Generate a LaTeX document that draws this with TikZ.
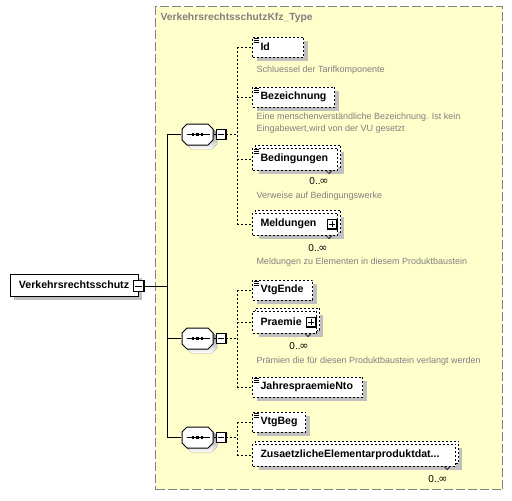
\documentclass[tikz,border=0pt]{standalone}
\usepackage{fontspec}
\setmainfont{Liberation Sans}
\newfontfamily\symfont{DejaVu Sans}
\usetikzlibrary{shadows,calc}
\definecolor{typefill}{RGB}{255,255,204}
\definecolor{typeline}{RGB}{128,128,128}
\definecolor{shade}{RGB}{192,192,192}
\definecolor{doccol}{RGB}{128,128,128}
\newcommand\lblfont{\fontsize{10.6}{12}\selectfont\bfseries}
\newcommand\docfont{\fontsize{9}{12}\selectfont}
\newcommand\multfont{\fontsize{10}{12}\selectfont}
\newcommand\manyocc{0..\kern-1.2pt{\symfont\fontsize{11}{12}\selectfont ∞}}
\newcommand\seqglyph[1]{%
 \fill[shade] ([shift={(-11.5,-1.5)}]#1.center) -- ([shift={(-6.5,-6.5)}]#1.center) -- ([shift={(14.5,-6.5)}]#1.center) -- ([shift={(19.5,-1.5)}]#1.center) -- ([shift={(19.5,9.5)}]#1.center) -- ([shift={(14.5,14.5)}]#1.center) -- ([shift={(-6.5,14.5)}]#1.center) -- ([shift={(-11.5,9.5)}]#1.center) -- cycle;
 \draw[fill=white] ([shift={(-15.5,-5.5)}]#1.center) -- ([shift={(-10.5,-10.5)}]#1.center) -- ([shift={(10.5,-10.5)}]#1.center) -- ([shift={(15.5,-5.5)}]#1.center) -- ([shift={(15.5,5.5)}]#1.center) -- ([shift={(10.5,10.5)}]#1.center) -- ([shift={(-10.5,10.5)}]#1.center) -- ([shift={(-15.5,5.5)}]#1.center) -- cycle;
 \draw ([shift={(-11,0)}]#1.center) -- ([shift={(12,0)}]#1.center);
 \foreach \dx in {-4.5,0,4.5} \fill ([shift={(\dx-1.4,-1.4)}]#1.center) rectangle ([shift={(\dx+1.4,1.4)}]#1.center);
}
\newcommand\simpleicon[1]{%
 \foreach \dy in {2,4,6} \draw[line width=0.8pt] ([shift={(1.5,\dy)}]#1.north west) -- ++(5,0);
}
\newcommand\multinotch[1]{%
 \draw[line width=0.7pt] ([shift={(-12,0)}]#1.south east) -- ++(3,3) -- ++(3,-3);
}
\tikzset{
  every path/.style={line width=1pt},
  typebox/.style={draw=typeline, fill=typefill, dash pattern=on 9pt off 3pt, anchor=north west, minimum width=347pt, minimum height=483pt},
  conn/.style={draw=black, line width=1pt},
  dconn/.style={draw=black, line width=1pt, dash pattern=on 2pt off 2pt},
  rootbox/.style={draw, fill=white, minimum width=128pt, minimum height=22pt, inner sep=0pt, font=\lblfont,
     drop shadow={shadow xshift=4pt, shadow yshift=-4pt, fill=shade, opacity=1, draw=none}},
  elem/.style={draw, dash pattern=on 2pt off 2pt, fill=white, anchor=west, minimum height=20pt, inner xsep=8pt, inner ysep=0pt,
     text width=#1-16pt, align=left, font=\lblfont,
     drop shadow={shadow xshift=4pt, shadow yshift=-4pt, fill=shade, opacity=1, draw=none}},
  multielem/.style={draw, dash pattern=on 2pt off 2pt, fill=white, anchor=west, minimum height=22pt, inner xsep=8pt, inner ysep=0pt,
     text width=#1-16pt, align=left, font=\lblfont,
     drop shadow={shadow xshift=6pt, shadow yshift=-4pt, fill=shade, opacity=1, draw=none},
     copy shadow={shadow xshift=3pt, shadow yshift=3pt, draw=black, fill=white, dash pattern=on 2pt off 2pt, opacity=1}},
  togglebox/.style={draw, fill=white, line width=0.9pt, minimum size=#1, inner sep=0pt, solid},
  minusbox/.style={togglebox=#1, path picture={
     \draw[line width=0.9pt] ([xshift=2pt]path picture bounding box.west) -- ([xshift=-2pt]path picture bounding box.east);
     \draw[line width=1.6pt] (path picture bounding box.north east) -- (path picture bounding box.south east) -- (path picture bounding box.south west);}},
  plusbox/.style={togglebox=#1, path picture={
     \draw[line width=0.9pt] ([xshift=2pt]path picture bounding box.west) -- ([xshift=-2pt]path picture bounding box.east);
     \draw[line width=0.9pt] ([yshift=-2pt]path picture bounding box.north) -- ([yshift=2pt]path picture bounding box.south);
     \draw[line width=1.6pt] (path picture bounding box.north east) -- (path picture bounding box.south east) -- (path picture bounding box.south west);}},
  seqbox/.style={minimum width=31pt, minimum height=21pt, inner sep=0pt},
  doc/.style={anchor=west, font=\docfont, text=doccol, inner sep=0pt, align=left},
  mult/.style={font=\multfont, text=black, inner sep=0pt},
}
\begin{document}
\begin{tikzpicture}[x=1pt,y=-1pt]
\useasboundingbox (0,0) rectangle (512,501);

% type container
\node[typebox] (type) at (155,6) {};
\node[anchor=west, font=\fontsize{10.3}{12}\selectfont\bfseries, text=doccol, inner sep=0pt] (title) at (160,18) {VerkehrsrechtsschutzKfz\_Type};

% root element
\node[rootbox] (root) at (74,285) {Verkehrsrechtsschutz};
\node[minusbox=11pt] (rootm) at (138.5,286) {};

% trunk
\coordinate (trunk) at (167,286);
\coordinate (v) at (237,0);

% sequences
\node[seqbox] (s1) at (197.5,134.5) {};
\node[seqbox] (s2) at (197.5,338.5) {};
\node[seqbox] (s3) at (197.5,437.5) {};
\seqglyph{s1}
\seqglyph{s2}
\seqglyph{s3}
\node[minusbox=10pt] (s1m) at (221,134.5) {};
\node[minusbox=10pt] (s2m) at (221,338.5) {};
\node[minusbox=10pt] (s3m) at (221,437.5) {};

\draw[conn] (rootm.east) -- (trunk);
\draw[conn] (s1.west -| trunk) -- (s3.west -| trunk);
\foreach \s in {s1,s2,s3} {
  \draw[conn] (\s.west -| trunk) -- ([xshift=-0.5pt]\s.west);
  \draw[conn] ([xshift=0.5pt]\s.east) -- (\s m.west);
}

% children of sequence 1
\node[elem=51pt] (id) at (252,47) {Id};
\node[elem=82pt] (bez) at (252,97) {Bezeichnung};
\node[multielem=85pt] (bed) at (252,159) {Bedingungen};
\node[multielem=85pt] (meld) at (252,224) {Meldungen};
\node[plusbox=10pt] (meldp) at ([xshift=-6pt]meld.east) {};
\simpleicon{id}
\simpleicon{bez}
\simpleicon{bed}
\multinotch{bed}
\multinotch{meld}

% children of sequence 2
\node[elem=60pt] (vtgende) at (252,290) {VtgEnde};
\node[multielem=64pt] (praemie) at (252,322) {Praemie};
\node[plusbox=10pt] (praemiep) at ([xshift=-6pt]praemie.east) {};
\node[elem=110pt] (jahr) at (252,387) {JahrespraemieNto};
\simpleicon{vtgende}
\simpleicon{jahr}
\multinotch{praemie}

% children of sequence 3
\node[elem=53pt] (vtgbeg) at (252,422) {VtgBeg};
\node[multielem=203pt] (zus) at (252,455) {\mbox{ZusaetzlicheElementarproduktdat...}};
\simpleicon{vtgbeg}
\multinotch{zus}

% dashed connectors
\draw[dconn] (id.west -| v) -- (meld.west -| v);
\draw[dconn] (vtgende.west -| v) -- (jahr.west -| v);
\draw[dconn] (vtgbeg.west -| v) -- (zus.west -| v);
\draw[dconn] (s1m.east) -- (s1m.east -| v);
\draw[dconn] (s2m.east) -- (s2m.east -| v);
\draw[dconn] (s3m.east) -- (s3m.east -| v);
\foreach \c in {id,bez,bed,meld,vtgende,praemie,jahr,vtgbeg,zus}
  \draw[dconn] (\c.west -| v) -- (\c.west);

% multiplicities
\node[mult] (bedm) at ([shift={(-19,11)}]bed.south east) {\manyocc};
\node[mult] (meldm) at ([shift={(-20,13)}]meld.south east) {\manyocc};
\node[mult] (praemiem) at ([shift={(-18,13)}]praemie.south east) {\manyocc};
\node[mult] (zusm) at ([shift={(-18,13)}]zus.south east) {\manyocc};

% documentation
\node[doc] (iddoc) at (256,70) {Schluessel der Tarifkomponente};
\node[doc, anchor=north west] (bezdoc) at (256,112) {Eine menschenverständliche Bezeichnung. Ist kein\\Eingabewert,wird von der VU gesetzt};
\node[doc] (beddoc) at (256,196) {Verweise auf Bedingungswerke};
\node[doc] (melddoc) at (256,262) {Meldungen zu Elementen in diesem Produktbaustein};
\node[doc] (praemiedoc) at (256,361) {Prämien die für diesen Produktbaustein verlangt werden};
\end{tikzpicture}
\end{document}
